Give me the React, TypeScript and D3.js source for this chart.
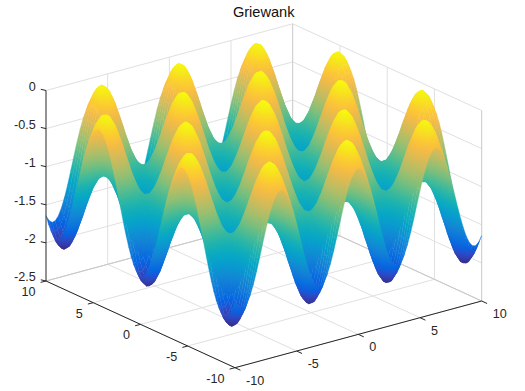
import React, { useMemo } from "react";
import * as d3 from "d3";

const TITLE = "Griewank";
const xTicks = [-10, -5, 0, 5, 10];
const yTicks = [-10, -5, 0, 5, 10];
const zTicks = [-2.5, -2, -1.5, -1, -0.5, 0];
const zTickLabels = ["-2.5", "-2", "-1.5", "-1", "-0.5", "0"];

// Tabulated surface profiles for |x| and |y| = 0, 0.25, ... 10 (the surface is mirror-symmetric).
const xProfile = [1, .969, .878, .732, .54, .315, .071, -.178, -.416, -.628, -.801, -.924, -.99, -.994, -.936, -.821, -.654, -.446, -.211, .038, .284, .512, .709, .862, .96, .999, .977, .893, .754, .568, .347, .104, -.146, -.386, -.602, -.78, -.911, -.985, -.997, -.946, -.839];
const yProfile = [1, .984, .938, .863, .76, .634, .489, .328, .156, -.02, -.196, -.365, -.523, -.665, -.786, -.882, -.951, -.991, -.999, -.977, -.924, -.841, -.733, -.602, -.454, -.288, -.116, .06, .235, .402, .557, .697, .81, .902, .965, .996, .996, .965, .902, .815, .706];
const bowl = [0, 0, .0001, .0001, .0003, .0004, .0006, .0008, .001, .0013, .0016, .0019, .0023, .0026, .0031, .0035, .004, .0045, .0051, .0056, .0063, .0069, .0076, .0083, .009, .0098, .0106, .0114, .0123, .0131, .0141, .015, .016, .017, .0181, .0191, .0203, .0214, .0226, .0238, .025];

const parulaAt = [0, 4, 6, 8, 12, 16, 20, 24, 28, 32, 36, 40, 44, 48, 52, 56, 60, 63];
const parula = ["#352a87", "#3243ba", "#2053d4", "#0363e1", "#0d75dc", "#1485d4", "#0998d1", "#06a7c6", "#15b1b4", "#38b99e", "#65be86", "#92bf73", "#b7bd64", "#d9ba56", "#f8ba44", "#fcce2e", "#f5eb18", "#f9fb0e"];

const AX = { x: 235, y: 367.7 };
const DX = { x: 246.7, y: -66.7 };
const DY = { x: -189, y: -86.7 };
const DZ = 190.5;

const u = d3.scaleLinear().domain([-10, 10]).range([0, 1]);
const w = d3.scaleLinear().domain([-2.5, 0]).range([0, 1]);
const project = (x: number, y: number, z: number): [number, number] => [
  AX.x + u(x) * DX.x + u(y) * DY.x,
  AX.y + u(x) * DX.y + u(y) * DY.y - w(z) * DZ,
];

const coords = d3.range(-40, 41).map((k) => k / 4);
const zAt = (i: number, j: number) => {
  const a = Math.abs(i - 40);
  const b = Math.abs(j - 40);
  return xProfile[a] * yProfile[b] - 1 - bowl[a] - bowl[b];
};

const FONT = "'Liberation Sans', Arial, sans-serif";
const GRID = "#e0e0e0";
const EDGE = "#c8c8c8";
const INK = "#262626";

type Quad = { d: string; paint: string; grad?: { id: string; x1: number; y1: number; x2: number; y2: number; c0: string; c1: string; c2: string } };

export default function App() {
  const quads = useMemo(() => {
    const zs: number[] = [];
    coords.forEach((_, i) => coords.forEach((__, j) => zs.push(zAt(i, j))));
    const [lo, hi] = d3.extent(zs) as [number, number];
    const color = d3
      .scaleLinear<string>()
      .domain(parulaAt.map((k) => lo + ((hi - lo) * k) / 63))
      .range(parula)
      .interpolate(d3.interpolateRgb);
    const out: Quad[] = [];
    for (let i = coords.length - 2; i >= 0; i--) {
      for (let j = coords.length - 2; j >= 0; j--) {
        const idx: [number, number][] = [[i, j], [i + 1, j], [i + 1, j + 1], [i, j + 1]];
        const zv = idx.map(([a, b]) => zAt(a, b));
        const p = idx.map(([a, b], n) => project(coords[a], coords[b], zv[n]));
        const d = "M" + p.map((q) => q[0].toFixed(2) + "," + q[1].toFixed(2)).join("L") + "Z";
        const zMin = d3.min(zv) as number;
        const zMax = d3.max(zv) as number;
        const zc = d3.mean(zv) as number;
        if (zMax - zMin < 0.004) {
          out.push({ d, paint: color(zc) });
          continue;
        }
        const id = `g${i}_${j}`;
        // Regularised screen-space fit of z over the cell, stable when a cell is seen edge-on.
        const ax = (p[1][0] + p[2][0] - p[0][0] - p[3][0]) / 2;
        const ay = (p[1][1] + p[2][1] - p[0][1] - p[3][1]) / 2;
        const bx = (p[3][0] + p[2][0] - p[0][0] - p[1][0]) / 2;
        const by = (p[3][1] + p[2][1] - p[0][1] - p[1][1]) / 2;
        const da = (zv[1] + zv[2] - zv[0] - zv[3]) / 2;
        const db = (zv[3] + zv[2] - zv[0] - zv[1]) / 2;
        const lam = 0.6;
        const m11 = ax * ax + bx * bx + lam;
        const m12 = ax * ay + bx * by;
        const m22 = ay * ay + by * by + lam;
        const r1 = ax * da + bx * db;
        const r2 = ay * da + by * db;
        const det = m11 * m22 - m12 * m12;
        const gx = (m22 * r1 - m12 * r2) / det;
        const gy = (m11 * r2 - m12 * r1) / det;
        const n2 = gx * gx + gy * gy;
        const cx = d3.mean(p, (q) => q[0]) as number;
        const cy = d3.mean(p, (q) => q[1]) as number;
        out.push({
          d,
          paint: `url(#${id})`,
          grad: {
            id,
            x1: cx + (gx * (zMin - zc)) / n2,
            y1: cy + (gy * (zMin - zc)) / n2,
            x2: cx + (gx * (zMax - zc)) / n2,
            y2: cy + (gy * (zMax - zc)) / n2,
            c0: color(zMin),
            c1: color((zMin + zMax) / 2),
            c2: color(zMax),
          },
        });
      }
    }
    return out;
  }, []);

  const seg = (a: [number, number], b: [number, number], stroke: string, key: string) => (
    <line key={key} x1={a[0]} y1={a[1]} x2={b[0]} y2={b[1]} stroke={stroke} strokeWidth={1} />
  );

  const grid: React.ReactNode[] = [];
  xTicks.forEach((t) => {
    grid.push(seg(project(t, -10, -2.5), project(t, 10, -2.5), GRID, `fx${t}`));
    if (t > -10 && t < 10) grid.push(seg(project(t, 10, -2.5), project(t, 10, 0), GRID, `wx${t}`));
  });
  yTicks.forEach((t) => {
    grid.push(seg(project(-10, t, -2.5), project(10, t, -2.5), GRID, `fy${t}`));
    if (t > -10 && t < 10) grid.push(seg(project(10, t, -2.5), project(10, t, 0), GRID, `wy${t}`));
  });
  zTicks.forEach((t) => {
    grid.push(seg(project(-10, 10, t), project(10, 10, t), GRID, `zl${t}`));
    grid.push(seg(project(10, 10, t), project(10, -10, t), GRID, `zr${t}`));
  });
  grid.push(seg(project(10, 10, -2.5), project(10, 10, 0), EDGE, "back"));
  grid.push(seg(project(10, -10, -2.5), project(10, -10, 0), EDGE, "right"));
  grid.push(seg(project(-10, 10, -2.5), project(10, 10, -2.5), EDGE, "backL"));
  grid.push(seg(project(10, 10, -2.5), project(10, -10, -2.5), EDGE, "backR"));

  const textProps = { fontFamily: FONT, fontSize: 12.6, fill: INK };

  return (
    <svg width={525} height={391} style={{ position: "absolute", left: 0, top: 0, display: "block", background: "#fff" }}>
      <defs>
        {quads.map((q) =>
          q.grad ? (
            <linearGradient key={q.grad.id} id={q.grad.id} gradientUnits="userSpaceOnUse" x1={q.grad.x1} y1={q.grad.y1} x2={q.grad.x2} y2={q.grad.y2}>
              <stop offset="0" stopColor={q.grad.c0} />
              <stop offset="0.5" stopColor={q.grad.c1} />
              <stop offset="1" stopColor={q.grad.c2} />
            </linearGradient>
          ) : null
        )}
      </defs>
      <text x={263.7} y={17} textAnchor="middle" fontFamily={FONT} fontSize={14.6} fill="#111">
        {TITLE}
      </text>
      {grid}
      {quads.map((q, k) => (
        <path key={k} d={q.d} fill={q.paint} stroke={q.paint} strokeWidth={0.4} />
      ))}
      {seg(project(-10, 10, -2.5), project(-10, 10, 0), INK, "zaxis")}
      {seg(project(-10, 10, -2.5), project(-10, -10, -2.5), INK, "yaxis")}
      {seg(project(-10, -10, -2.5), project(10, -10, -2.5), INK, "xaxis")}
      {xTicks.map((t) => {
        const [px, py] = project(t, -10, -2.5);
        return (
          <g key={`xt${t}`}>
            <line x1={px} y1={py} x2={px + 5.4} y2={py + 2.5} stroke={INK} />
            <text {...textProps} x={px + 11} y={py + 12.6} dy="0.35em" textAnchor="start">{t}</text>
          </g>
        );
      })}
      {yTicks.map((t) => {
        const [px, py] = project(-10, t, -2.5);
        return (
          <g key={`yt${t}`}>
            <line x1={px} y1={py} x2={px - 5.4} y2={py + 1.4} stroke={INK} />
            <text {...textProps} x={px - 10.5} y={py + 10.6} dy="0.35em" textAnchor="end">{t}</text>
          </g>
        );
      })}
      {zTicks.map((t, k) => {
        const [px, py] = project(-10, 10, t);
        return (
          <g key={`zt${t}`}>
            <line x1={px} y1={py} x2={px - 5.2} y2={py - 1.2} stroke={INK} />
            <text {...textProps} x={35.8} y={py - 4} dy="0.35em" textAnchor="end">{zTickLabels[k]}</text>
          </g>
        );
      })}
    </svg>
  );
}
